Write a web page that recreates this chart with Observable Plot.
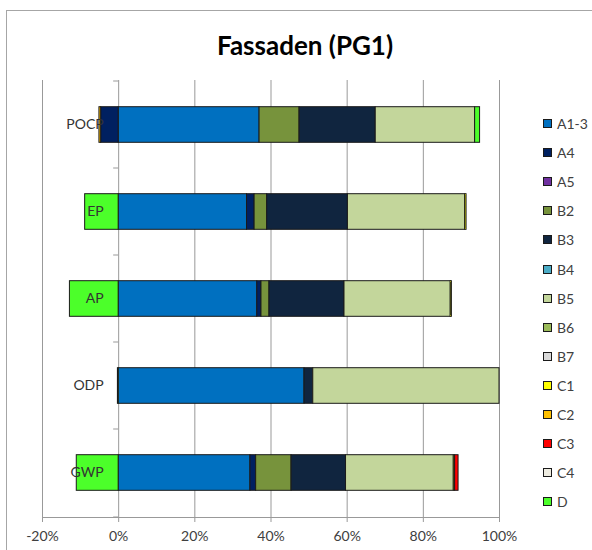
<!DOCTYPE html>
<html>
<head>
<meta charset="utf-8">
<script src="https://cdn.jsdelivr.net/npm/d3@7"></script>
<script src="https://cdn.jsdelivr.net/npm/@observablehq/plot@0.6"></script>
<style>
  body { margin: 0; background: #fff; overflow: hidden; }
  #wrap { position: relative; width: 592px; height: 550px; overflow: hidden; font-family: Lato, "Open Sans", sans-serif; }
  #border { position: absolute; left: 6px; top: 10px; width: 700px; height: 700px; border: 1px solid #a6a6a6; }
  #title { position: relative; height: 70px; box-sizing: border-box; padding-top: 29px; padding-left: 18px; text-align: center; font-weight: bold; font-size: 26px; line-height: 32px; color: #000; }
  #chart { position: relative; }
  #legend { position: absolute; left: 543px; top: 109px; font-size: 14px; color: #404040; }
  .item { height: 29.1px; display: flex; align-items: center; }
  .sw { width: 7px; height: 7px; border: 1px solid #1a1a1a; margin-right: 5px; }
</style>
</head>
<body>
<div id="wrap">
  <div id="border"></div>
  <div id="title">Fassaden (PG1)</div>
  <div id="chart"></div>
  <div id="legend"></div>
</div>
<script>
// Categories top to bottom
const categories = ["POCP", "EP", "AP", "ODP", "GWP"];
// Life-cycle modules (legend order) and their colours
const modules = ["A1-3", "A4", "A5", "B2", "B3", "B4", "B5", "B6", "B7", "C1", "C2", "C3", "C4", "D"];
const colors = ["#0070c0", "#002060", "#7030a0", "#77933c", "#10253f", "#4bacc6", "#c3d69b", "#9bbb59", "#d9d9d9", "#ffff00", "#ffc000", "#ff0000", "#eeece1", "#4cff2a"];
// Shares in % per category (order: POCP, EP, AP, ODP, GWP)
const vA13 = [37.0, 33.7, 36.4, 48.8, 34.6];
const vA4  = [-4.6, 2.0, 1.1, 0, 1.5];
const vA5  = [0, 0, 0, 0, 0];
const vB2  = [10.5, 3.3, 2.1, 0, 9.3];
const vB3  = [20.0, 21.2, 19.7, 2.3, 14.3];
const vB4  = [0, 0, 0, 0, 0];
const vB5  = [26.1, 30.8, 27.9, 48.9, 28.3];
const vB6  = [0, 0, 0, 0, 0];
const vB7  = [0, 0, 0, 0, 0];
const vC1  = [0, 0.35, 0.3, 0, 0.35];
const vC2  = [-0.45, 0, 0, 0, 0];
const vC3  = [0, 0, 0, 0, 0.9];
const vC4  = [0, 0, 0, 0, 0];
const vD   = [1.3, -8.8, -12.8, -0.2, -11.0];
const xTicks = [-20, 0, 20, 40, 60, 80, 100];

const series = [vA13, vA4, vA5, vB2, vB3, vB4, vB5, vB6, vB7, vC1, vC2, vC3, vC4, vD];
const rows = [];
modules.forEach((m, j) => categories.forEach((c, i) => {
  const v = series[j][i];
  if (v !== 0) rows.push({cat: c, module: m, value: v});
}));

const boundaryTicks = (index, scales, values, dims) => {
  const g = d3.create("svg:g").attr("stroke", "#999").attr("stroke-width", 1);
  const x0 = scales.x(0);
  const ys = categories.map(c => scales.y(c));
  ys.push(dims.height - dims.marginBottom);
  ys.forEach(yy => g.append("line").attr("x1", x0 - 5).attr("x2", x0).attr("y1", yy).attr("y2", yy));
  return g.node();
};

const plot = Plot.plot({
  width: 592,
  height: 480,
  marginTop: 10,
  marginBottom: 33,
  marginLeft: 42,
  marginRight: 93,
  x: {domain: [-20, 100], label: null},
  y: {domain: categories, padding: 0, axis: null, label: null},
  color: {domain: modules, range: colors},
  style: {fontFamily: "Lato, 'Open Sans', sans-serif", fontSize: "14px", color: "#404040", background: "transparent"},
  marks: [
    Plot.gridX(xTicks, {stroke: "#999", strokeOpacity: 1}),
    Plot.frame({anchor: "bottom", stroke: "#999"}),
    Plot.axisX(xTicks, {tickFormat: d => d + "%", tickSize: 5, tickPadding: 9, stroke: "#999", fill: "#404040", fontSize: 14, label: null}),
    boundaryTicks,
    Plot.barX(rows, Plot.stackX({x: "value", y: "cat", fill: "module", stroke: "#1a1a1a", strokeWidth: 1, insetTop: 25.7, insetBottom: 25.7})),
    Plot.text(categories, {x: () => 0, y: d => d, dx: -15, textAnchor: "end", fill: "#333", fontSize: 14})
  ]
});
document.getElementById("chart").appendChild(plot);

const legend = d3.select("#legend");
modules.forEach((m, j) => {
  const it = legend.append("div").attr("class", "item");
  it.append("div").attr("class", "sw").style("background", colors[j]);
  it.append("span").text(m);
});
</script>
</body>
</html>
